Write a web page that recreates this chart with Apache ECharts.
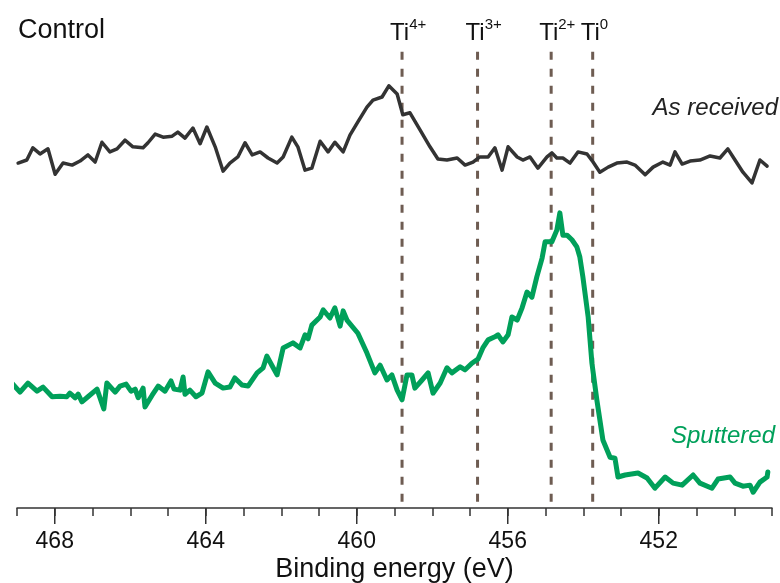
<!DOCTYPE html>
<html>
<head>
<meta charset="utf-8">
<script src="https://cdn.jsdelivr.net/npm/echarts@6/dist/echarts.min.js"></script>
<style>html,body{margin:0;padding:0;background:#fff}#c{width:780px;height:583px}</style>
</head>
<body>
<div id="c"></div>
<script>
// Binding energy (eV) and intensity (a.u.)
const asReceivedEnergy = [468.97,468.74,468.58,468.39,468.18,467.99,467.78,467.54,467.33,467.12,466.93,466.75,466.54,466.35,466.14,465.93,465.66,465.53,465.34,465.13,464.89,464.74,464.55,464.34,464.15,463.97,463.75,463.54,463.36,463.15,462.96,462.77,462.56,462.35,462.11,461.95,461.72,461.56,461.37,461.19,460.97,460.76,460.58,460.36,460.18,459.97,459.73,459.57,459.33,459.15,458.93,458.78,458.59,458.32,458.06,457.85,457.61,457.34,457.13,456.92,456.74,456.52,456.34,456.15,455.99,455.75,455.60,455.41,455.20,454.96,454.83,454.70,454.54,454.35,454.14,453.90,453.74,453.56,453.34,453.11,452.84,452.63,452.36,452.15,451.89,451.70,451.57,451.38,451.17,450.91,450.64,450.38,450.17,449.98,449.77,449.53,449.32,449.13];
const asReceivedIntensity = [67.9,68.5,70.9,69.7,70.7,65.7,67.9,67.5,68.3,69.5,68.1,72.0,70.1,70.7,72.4,71.1,70.9,71.9,73.6,73.0,73.2,74.0,72.8,74.8,71.7,75.0,71.1,66.3,67.9,69.1,71.9,69.5,70.1,68.9,67.9,69.1,73.0,71.1,66.5,66.9,72.2,70.1,72.0,70.1,73.4,76.0,78.9,80.3,80.9,83.1,81.5,77.4,77.8,74.4,71.1,68.7,68.5,68.9,67.5,68.1,69.1,69.1,70.9,66.5,71.1,69.1,68.5,69.1,66.9,69.1,69.9,68.9,68.9,67.9,70.1,69.7,68.1,66.1,67.1,67.9,68.1,67.5,65.6,67.1,68.1,67.5,70.1,67.7,68.3,68.5,69.3,68.9,70.7,68.5,66.1,64.0,68.5,67.3];

const sputteredEnergy = [469.11,468.92,468.71,468.47,468.31,468.07,467.86,467.68,467.60,467.46,467.38,467.28,467.12,466.88,466.70,466.62,466.40,466.27,466.11,465.98,465.87,465.79,465.66,465.61,465.42,465.26,465.08,464.92,464.84,464.68,464.60,464.55,464.42,464.26,464.10,463.94,463.75,463.54,463.36,463.23,463.04,462.88,462.64,462.48,462.38,462.25,462.11,461.95,461.69,461.50,461.37,461.29,461.19,460.97,460.89,460.71,460.58,460.44,460.36,460.26,459.97,459.73,459.52,459.38,459.20,459.07,458.93,458.80,458.67,458.54,458.46,458.27,458.11,457.98,457.79,457.61,457.48,457.26,457.13,456.95,456.79,456.66,456.52,456.34,456.26,456.13,455.99,455.89,455.75,455.62,455.49,455.36,455.23,455.09,455.01,454.83,454.70,454.62,454.54,454.43,454.30,454.17,454.09,454.01,453.87,453.77,453.64,453.48,453.29,453.16,453.08,452.89,452.55,452.31,452.10,451.83,451.62,451.38,451.09,450.91,450.59,450.43,450.11,449.98,449.77,449.58,449.50,449.32,449.13,449.11];
const sputteredIntensity = [24.4,22.8,24.6,23.0,23.8,21.9,22.0,21.9,22.6,21.7,22.4,20.9,21.9,23.4,19.5,24.6,22.8,24.0,24.4,23.0,23.4,21.7,23.6,19.9,22.2,24.0,23.0,25.0,23.4,23.2,25.8,22.4,23.2,21.9,22.6,26.8,24.6,23.6,23.8,25.6,24.2,24.0,26.6,27.6,29.9,28.1,26.2,31.5,32.5,31.5,34.1,33.3,36.0,37.6,39.0,37.4,39.4,35.8,38.8,37.0,34.4,30.5,26.6,28.1,25.2,26.2,23.2,21.3,26.2,26.2,23.6,25.2,26.6,22.6,24.6,27.6,26.6,27.8,27.2,28.5,29.3,31.5,33.1,33.7,34.1,32.7,34.1,37.6,37.0,39.4,42.5,41.5,45.5,49.2,52.4,52.4,54.7,58.1,53.7,53.7,52.8,51.4,49.4,45.5,37.6,28.5,21.3,13.4,10.0,9.8,6.1,6.5,6.9,5.9,3.9,6.1,4.9,4.5,6.5,4.9,3.9,5.7,6.1,4.9,4.3,4.5,3.1,5.1,6.1,7.1];

const refEnergy = [458.8, 456.8, 454.85, 453.75];
const refSup = ['4+', '3+', '2+', '0'];
const tickLabels = [468, 464, 460, 456, 452];
const xMin = 449, xMax = 469;

const FONT = '"Liberation Sans", Arial, Helvetica, sans-serif';
const lineTop = 89.8;
const majorTickLen = 16;

const zip = (a, b) => a.map((v, i) => [v, b[i]]);

const chart = echarts.init(document.getElementById('c'), null, {renderer: 'canvas'});
chart.setOption({
  animation: false,
  backgroundColor: '#fff',
  grid: {left: 17, right: 8, top: 0, bottom: 75, containLabel: false, outerBoundsMode: 'none'},
  xAxis: [{
    type: 'value', min: xMin, max: xMax, inverse: true, position: 'bottom',
    name: 'Binding energy (eV)', nameLocation: 'middle', nameGap: 48, nameMoveOverlap: false,
    nameTextStyle: {fontFamily: FONT, fontSize: 27, lineHeight: 28, color: '#111'},
    axisLine: {show: true, lineStyle: {color: '#333', width: 1.5}},
    axisTick: {show: false},
    axisLabel: {show: true, customValues: tickLabels, margin: 22, fontFamily: FONT, fontSize: 23, color: '#111'},
    splitLine: {show: false}
  }, {
    type: 'value', min: xMin, max: xMax, inverse: true, position: 'bottom', interval: 1,
    axisLine: {show: false},
    axisTick: {show: true, length: 8, lineStyle: {color: '#333', width: 1.5}},
    axisLabel: {show: false},
    splitLine: {show: false}
  }],
  yAxis: {type: 'value', min: 0, max: 100, show: false},
  graphic: [
    {type: 'text', left: 18, top: 17, style: {text: 'Control', font: '27px ' + FONT, fill: '#111'}},
    {type: 'text', right: 2, top: 96, style: {text: 'As received', font: 'italic 24px ' + FONT, fill: '#222'}},
    {type: 'text', right: 5, top: 424, style: {text: 'Sputtered', font: 'italic 24px ' + FONT, fill: '#00a05a'}}
  ],
  series: [
    {
      // major ticks at labelled energies
      type: 'custom', xAxisIndex: 0, yAxisIndex: 0, silent: true, clip: false, z: 2,
      data: tickLabels.map(v => [v]),
      encode: {x: 0},
      renderItem: function (params, api) {
        const p = api.coord([api.value(0), 0]);
        return {type: 'line', shape: {x1: p[0], y1: p[1], x2: p[0], y2: p[1] + majorTickLen},
          style: {stroke: '#333', lineWidth: 1.5}};
      }
    },
    {
      type: 'custom', xAxisIndex: 0, yAxisIndex: 0, silent: true, clip: false, z: 1,
      data: refEnergy.map(e => [e]),
      encode: {x: 0},
      renderItem: function (params, api) {
        const e = api.value(0);
        const top = api.coord([e, lineTop]);
        const bot = api.coord([e, 0]);
        return {
          type: 'group',
          children: [
            {type: 'line', shape: {x1: top[0], y1: top[1], x2: bot[0], y2: bot[1]},
             style: {stroke: '#6e5c52', lineWidth: 3, lineDash: [8, 9]}},
            {type: 'text', x: top[0] - 12, y: top[1] - 6,
             style: {text: '{b|Ti}{s|' + refSup[params.dataIndex] + '}',
               align: 'left', verticalAlign: 'bottom',
               rich: {
                 b: {fontFamily: FONT, fontSize: 24, lineHeight: 28, fill: '#111', verticalAlign: 'bottom'},
                 s: {fontFamily: FONT, fontSize: 15, lineHeight: 28, fill: '#111', verticalAlign: 'top'}
               }}}
          ]
        };
      }
    },
    {
      name: 'As received', type: 'line', xAxisIndex: 0, data: zip(asReceivedEnergy, asReceivedIntensity),
      showSymbol: false, smooth: false, z: 3,
      lineStyle: {color: '#333', width: 3.5, cap: 'round', join: 'round'}
    },
    {
      name: 'Sputtered', type: 'line', xAxisIndex: 0, data: zip(sputteredEnergy, sputteredIntensity),
      showSymbol: false, smooth: false, clip: false, z: 3,
      lineStyle: {color: '#00a05a', width: 5, cap: 'round', join: 'round'}
    }
  ]
});
</script>
</body>
</html>
